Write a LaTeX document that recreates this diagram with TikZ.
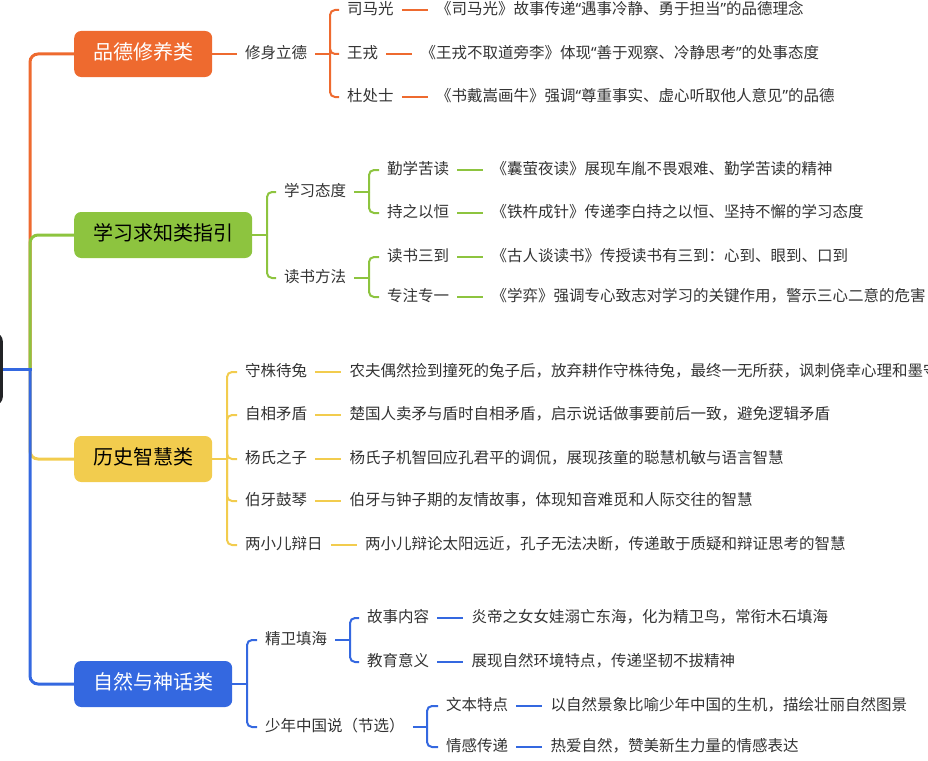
\documentclass[tikz,border=0pt]{standalone}
\usepackage{fontspec}
\newfontfamily\cjk{Noto Sans CJK SC}
\newfontfamily\quofont{Noto Sans}
\newcommand\cnquote[1]{{\quofont“}#1{\quofont”}}
\usetikzlibrary{positioning}
\definecolor{pdorange}{HTML}{EE6A2F}
\definecolor{xxgreen}{HTML}{8DC43F}
\definecolor{lsyellow}{HTML}{F2CC4E}
\definecolor{zrblue}{HTML}{3468E0}
\definecolor{rootdark}{HTML}{222326}
\definecolor{txtgray}{HTML}{333333}
\tikzset{
  topic/.style={anchor=west, rounded corners=7pt, minimum height=46pt, inner xsep=19pt, inner ysep=0pt,
    text height=15pt, text depth=4pt, font=\cjk\fontsize{20}{24}\selectfont},
  lbl/.style={anchor=west, inner xsep=8pt, inner ysep=1pt, text height=12pt, text depth=3pt,
    text=txtgray, font=\cjk\fontsize{15.5}{18}\selectfont},
  bough/.style={line width=3pt, rounded corners=8pt},
  twig/.style={line width=2pt, rounded corners=5pt}
}
\begin{document}
\begin{tikzpicture}[x=1pt, y=-1pt]
\useasboundingbox (0,0) rectangle (928,760);
\clip (0,0) rectangle (928,760);
\node[fill=rootdark, rounded corners=8pt, minimum width=40pt, minimum height=72pt, anchor=east] (root) at (3,369) {};
\coordinate (stem) at (30,369);

\node[topic, fill=pdorange, text=white] (pd) at (74,54) {品德修养类};
\node[topic, fill=xxgreen, text=black] (xx) at (74,235) {学习求知类指引};
\node[topic, fill=lsyellow, text=black] (ls) at (74,459) {历史智慧类};
\node[topic, fill=zrblue, text=white] (zr) at (74,684) {自然与神话类};

\draw[bough, pdorange] (stem) |- (pd.west);
\draw[bough, xxgreen] (stem) |- (xx.west);
\draw[bough, lsyellow] (stem) |- (ls.west);
\draw[bough, zrblue] (stem) |- (zr.west);
\draw[line width=3pt, zrblue, shorten >=-1.5pt] (root.east) -- (stem);

% pinde
\node[lbl] (xs) at (237,54) {修身立德};
\coordinate (xsb) at (330,54);
\node[lbl] (smg) at (339,10) {司马光};
\node[lbl] (wr) at (339,54) {王戎};
\node[lbl] (dcs) at (339,97) {杜处士};
\node[lbl, right=26pt of smg] (smgd) {《司马光》故事传递\cnquote{遇事冷静、勇于担当}的品德理念};
\node[lbl, right=26pt of wr] (wrd) {《王戎不取道旁李》体现\cnquote{善于观察、冷静思考}的处事态度};
\node[lbl, right=26pt of dcs] (dcsd) {《书戴嵩画牛》强调\cnquote{尊重事实、虚心听取他人意见}的品德};
\draw[twig, pdorange] (pd.east) -- (xs.west);
\draw[twig, pdorange] (xs.east) -- (xsb);
\draw[twig, pdorange] (xsb) |- (smg.west);
\draw[twig, pdorange] (xsb) |- (wr.west);
\draw[twig, pdorange] (xsb) |- (dcs.west);
\draw[twig, pdorange] (smg.east) -- (smgd.west);
\draw[twig, pdorange] (wr.east) -- (wrd.west);
\draw[twig, pdorange] (dcs.east) -- (dcsd.west);

% xuexi
\coordinate (xxb) at (267,235);
\node[lbl] (xxtd) at (276,192) {学习态度};
\node[lbl] (dsff) at (276,278) {读书方法};
\coordinate (xxtdb) at (369,192);
\coordinate (dsffb) at (369,278);
\node[lbl] (qxkd) at (379,170) {勤学苦读};
\node[lbl] (czyh) at (379,213) {持之以恒};
\node[lbl] (dssd) at (379,257) {读书三到};
\node[lbl] (zzzy) at (379,297) {专注专一};
\node[lbl, right=26pt of qxkd] (qxkdd) {《囊萤夜读》展现车胤不畏艰难、勤学苦读的精神};
\node[lbl, right=26pt of czyh] (czyhd) {《铁杵成针》传递李白持之以恒、坚持不懈的学习态度};
\node[lbl, right=26pt of dssd] (dssdd) {《古人谈读书》传授读书有三到：心到、眼到、口到};
\node[lbl, right=26pt of zzzy] (zzzyd) {《学弈》强调专心致志对学习的关键作用，警示三心二意的危害};
\draw[twig, xxgreen] (xx.east) -- (xxb);
\draw[twig, xxgreen] (xxb) |- (xxtd.west);
\draw[twig, xxgreen] (xxb) |- (dsff.west);
\draw[twig, xxgreen] (xxtd.east) -- (xxtdb);
\draw[twig, xxgreen] (dsff.east) -- (dsffb);
\draw[twig, xxgreen] (xxtdb) |- (qxkd.west);
\draw[twig, xxgreen] (xxtdb) |- (czyh.west);
\draw[twig, xxgreen] (dsffb) |- (dssd.west);
\draw[twig, xxgreen] (dsffb) |- (zzzy.west);
\draw[twig, xxgreen] (qxkd.east) -- (qxkdd.west);
\draw[twig, xxgreen] (czyh.east) -- (czyhd.west);
\draw[twig, xxgreen] (dssd.east) -- (dssdd.west);
\draw[twig, xxgreen] (zzzy.east) -- (zzzyd.west);

% lishi
\coordinate (lsb) at (227,459);
\node[lbl] (szdt) at (237,372) {守株待兔};
\node[lbl] (zxmd) at (237,415) {自相矛盾};
\node[lbl] (yszz) at (237,459) {杨氏之子};
\node[lbl] (bygq) at (237,501) {伯牙鼓琴};
\node[lbl] (lxebr) at (237,545) {两小儿辩日};
\node[lbl, right=26pt of szdt] (szdtd) {农夫偶然捡到撞死的兔子后，放弃耕作守株待兔，最终一无所获，讽刺侥幸心理和墨守};
\node[lbl, right=26pt of zxmd] (zxmdd) {楚国人卖矛与盾时自相矛盾，启示说话做事要前后一致，避免逻辑矛盾};
\node[lbl, right=26pt of yszz] (yszzd) {杨氏子机智回应孔君平的调侃，展现孩童的聪慧机敏与语言智慧};
\node[lbl, right=26pt of bygq] (bygqd) {伯牙与钟子期的友情故事，体现知音难觅和人际交往的智慧};
\node[lbl, right=26pt of lxebr] (lxebrd) {两小儿辩论太阳远近，孔子无法决断，传递敢于质疑和辩证思考的智慧};
\draw[twig, lsyellow] (ls.east) -- (lsb);
\draw[twig, lsyellow] (lsb) |- (szdt.west);
\draw[twig, lsyellow] (lsb) |- (zxmd.west);
\draw[twig, lsyellow] (lsb) |- (yszz.west);
\draw[twig, lsyellow] (lsb) |- (bygq.west);
\draw[twig, lsyellow] (lsb) |- (lxebr.west);
\draw[twig, lsyellow] (szdt.east) -- (szdtd.west);
\draw[twig, lsyellow] (zxmd.east) -- (zxmdd.west);
\draw[twig, lsyellow] (yszz.east) -- (yszzd.west);
\draw[twig, lsyellow] (bygq.east) -- (bygqd.west);
\draw[twig, lsyellow] (lxebr.east) -- (lxebrd.west);

% ziran
\coordinate (zrb) at (247,684);
\node[lbl] (jwth) at (257,640) {精卫填海};
\node[lbl] (snzg) at (257,727) {少年中国说（节选）};
\coordinate (jwthb) at (350,640);
\coordinate (snzgb) at (427,727);
\node[lbl] (gsnr) at (359,618) {故事内容};
\node[lbl] (jyyy) at (359,662) {教育意义};
\node[lbl] (wbtd) at (438,706) {文本特点};
\node[lbl] (qgcd) at (438,747) {情感传递};
\node[lbl, right=26pt of gsnr] (gsnrd) {炎帝之女女娃溺亡东海，化为精卫鸟，常衔木石填海};
\node[lbl, right=26pt of jyyy] (jyyyd) {展现自然环境特点，传递坚韧不拔精神};
\node[lbl, right=26pt of wbtd] (wbtdd) {以自然景象比喻少年中国的生机，描绘壮丽自然图景};
\node[lbl, right=26pt of qgcd] (qgcdd) {热爱自然，赞美新生力量的情感表达};
\draw[twig, zrblue] (zr.east) -- (zrb);
\draw[twig, zrblue] (zrb) |- (jwth.west);
\draw[twig, zrblue] (zrb) |- (snzg.west);
\draw[twig, zrblue] (jwth.east) -- (jwthb);
\draw[twig, zrblue] (snzg.east) -- (snzgb);
\draw[twig, zrblue] (jwthb) |- (gsnr.west);
\draw[twig, zrblue] (jwthb) |- (jyyy.west);
\draw[twig, zrblue] (snzgb) |- (wbtd.west);
\draw[twig, zrblue] (snzgb) |- (qgcd.west);
\draw[twig, zrblue] (gsnr.east) -- (gsnrd.west);
\draw[twig, zrblue] (jyyy.east) -- (jyyyd.west);
\draw[twig, zrblue] (wbtd.east) -- (wbtdd.west);
\draw[twig, zrblue] (qgcd.east) -- (qgcdd.west);
\end{tikzpicture}
\end{document}
